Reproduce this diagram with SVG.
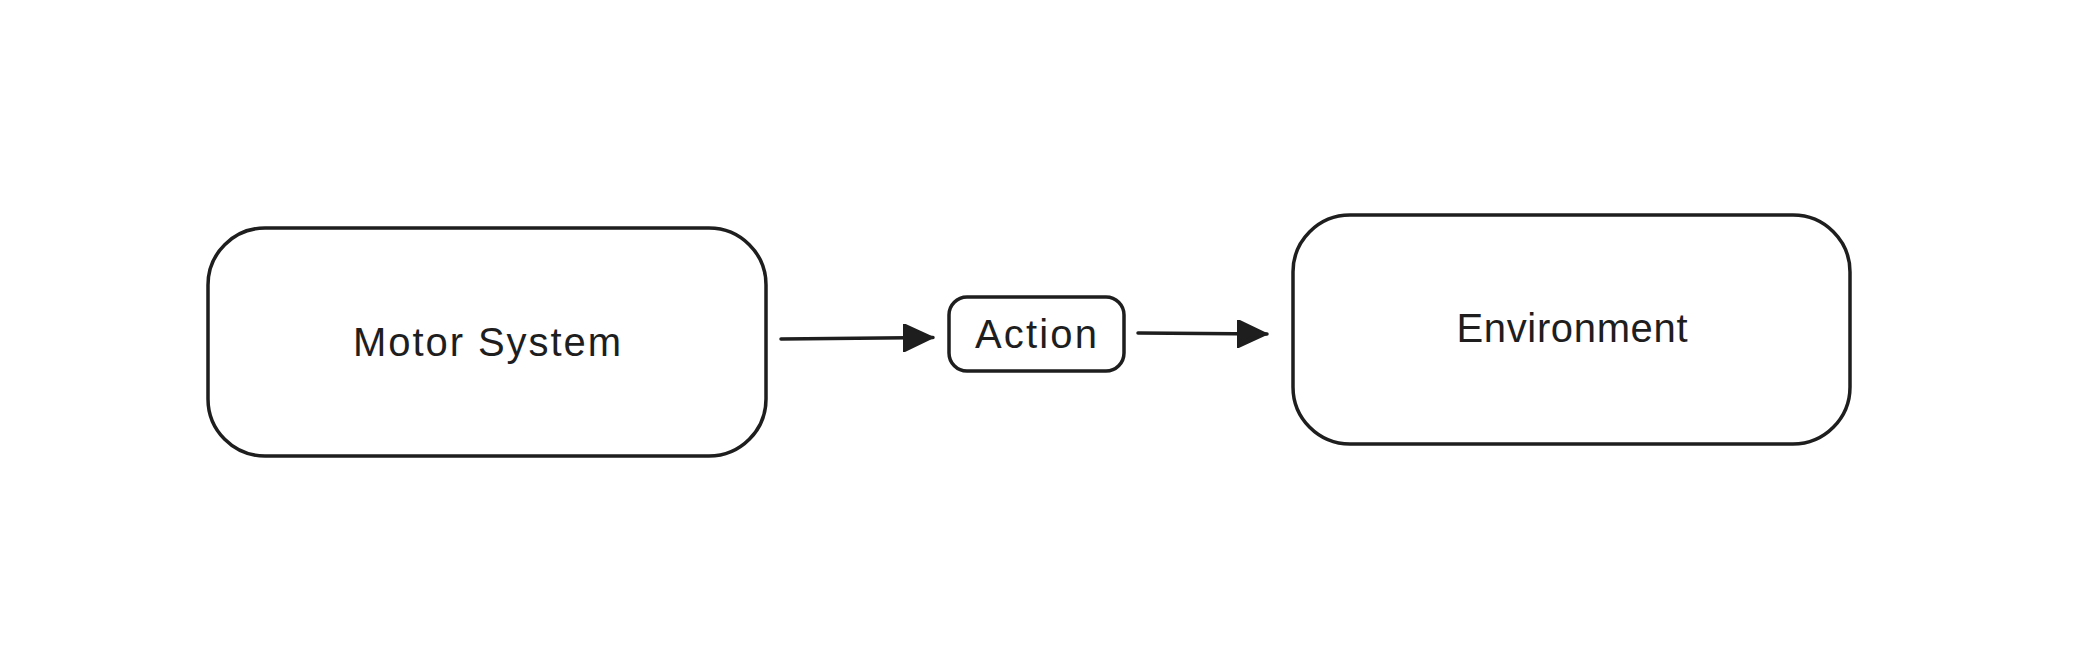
<svg xmlns="http://www.w3.org/2000/svg" width="2078" height="646" viewBox="0 0 2078 646">
<style>
.box{fill:#ffffff;stroke:#1e1e1e;stroke-width:3.5}
.lbl{font-family:"Liberation Sans",Arial,sans-serif;fill:#1e1e1e;text-anchor:middle;dominant-baseline:central}
.edge{stroke:#1e1e1e;stroke-width:3.5;stroke-linecap:round;fill:none}
</style>
<defs>
<marker id="ah" viewBox="0 0 30 28" refX="30" refY="14" markerWidth="30" markerHeight="28" markerUnits="userSpaceOnUse" orient="auto">
<path d="M0,0 L30,14 L0,28 Z" fill="#1e1e1e" stroke="#1e1e1e" stroke-width="2" stroke-linejoin="round"/>
</marker>
</defs>
<rect width="2078" height="646" fill="#ffffff"/>
<g id="motor">
<rect class="box" x="208" y="228" width="558" height="228" rx="57"/>
<text class="lbl" x="487" y="342" font-size="40" textLength="268" lengthAdjust="spacing">Motor System</text>
</g>
<g id="action">
<rect class="box" x="949" y="297" width="175" height="74" rx="18"/>
<text class="lbl" x="1036" y="334" font-size="40" textLength="122" lengthAdjust="spacing">Action</text>
</g>
<g id="environment">
<rect class="box" x="1293" y="215" width="557" height="229" rx="57"/>
<text class="lbl" x="1572" y="328" font-size="40" textLength="231" lengthAdjust="spacing">Environment</text>
</g>
<g id="connectors">
<line class="edge" x1="781" y1="339" x2="933" y2="337.5" marker-end="url(#ah)"/>
<line class="edge" x1="1138" y1="333" x2="1267" y2="334" marker-end="url(#ah)"/>
</g>
</svg>
